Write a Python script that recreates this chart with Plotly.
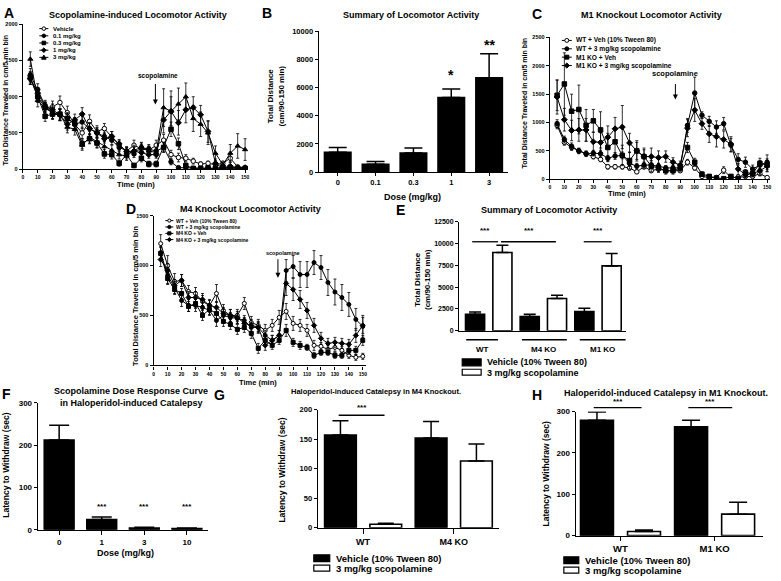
import plotly.graph_objects as go

W, H = 781, 581
FONT = "Liberation Sans, Arial, sans-serif"

# ---- time course data (cm / 5 min bin) ----
time_min = [5, 10, 15, 20, 25, 30, 35, 40, 45, 50, 55, 60, 65, 70, 75,
            80, 85, 90, 95, 100, 105, 110, 115, 120, 125, 130, 135, 140, 145, 150]

# panel A
a_names = ["Vehicle", "0.1 mg/kg", "0.3 mg/kg", "1 mg/kg", "3 mg/kg"]
a_veh = [1250, 1000, 850, 860, 920, 780, 620, 500, 660, 520, 560, 450, 330, 250, 330,
         280, 260, 330, 400, 200, 160, 150, 110, 70, 80, 60, 80, 150, 30, 20]
a_veh_err = [80, 70, 70, 80, 90, 90, 90, 80, 90, 80, 70, 70, 60, 60, 70,
             60, 60, 70, 80, 60, 60, 50, 40, 30, 30, 30, 30, 60, 20, 20]
a_01 = [1300, 1100, 880, 760, 750, 700, 620, 650, 560, 500, 450, 400, 300, 250, 210,
        300, 280, 250, 300, 100, 20, 20, 10, 10, 20, 10, 30, 20, 10, 10]
a_01_err = [90, 80, 70, 70, 80, 80, 70, 90, 80, 70, 60, 60, 60, 50, 50,
            60, 60, 50, 60, 40, 20, 20, 10, 10, 10, 10, 20, 10, 10, 10]
a_03 = [1270, 1000, 730, 760, 760, 700, 630, 350, 420, 360, 210, 200, 80, 200, 50,
        150, 70, 70, 300, 550, 350, 50, 10, 10, 20, 10, 20, 20, 10, 10]
a_03_err = [80, 80, 70, 70, 70, 70, 80, 70, 70, 70, 60, 60, 40, 60, 30,
            50, 40, 40, 70, 100, 80, 30, 10, 10, 10, 10, 10, 10, 10, 10]
a_1 = [1250, 1050, 860, 820, 750, 620, 680, 760, 560, 500, 420, 450, 350, 240, 250,
       230, 200, 200, 680, 800, 640, 820, 850, 750, 520, 80, 10, 40, 20, 20]
a_1_err = [80, 80, 70, 80, 80, 80, 80, 90, 80, 70, 60, 70, 60, 60, 60,
           60, 50, 50, 180, 200, 170, 180, 150, 130, 150, 60, 10, 20, 10, 10]
a_3 = [1520, 950, 840, 780, 750, 580, 550, 330, 440, 380, 310, 260, 200, 180, 260,
       300, 250, 230, 850, 800, 900, 1000, 700, 620, 500, 220, 60, 220, 320, 270]
a_3_err = [100, 90, 80, 80, 80, 80, 80, 70, 80, 80, 70, 70, 60, 60, 70,
           70, 60, 60, 260, 280, 220, 190, 180, 170, 160, 100, 30, 120, 170, 150]

# panel C
c_names = ["WT + Veh (10% Tween 80)", "WT + 3 mg/kg scopolamine",
           "M1 KO + Veh", "M1 KO + 3 mg/kg scopolamine"]
c_wt_veh = [950, 650, 560, 500, 450, 400, 350, 220, 220, 220, 200, 130, 220, 150, 180,
            150, 150, 150, 300, 200, 50, 30, 30, 160, 30, 40, 50, 50, 100, 30]
c_wt_veh_err = [60, 50, 50, 40, 40, 40, 40, 40, 40, 40, 40, 30, 40, 30, 40,
                30, 30, 30, 50, 40, 20, 20, 20, 60, 20, 20, 20, 20, 40, 20]
c_wt_scop = [980, 700, 580, 500, 450, 460, 450, 370, 410, 420, 280, 230, 250, 250, 230,
             200, 200, 200, 950, 1520, 1130, 1020, 920, 980, 600, 350, 300, 180, 250, 300]
c_wt_scop_err = [70, 60, 60, 50, 50, 50, 60, 50, 60, 60, 50, 50, 50, 50, 50,
                 40, 40, 40, 120, 280, 60, 90, 110, 110, 120, 100, 90, 70, 80, 130]
c_ko_veh = [1480, 1680, 1200, 1230, 950, 1030, 870, 560, 660, 420, 330, 500, 400, 230, 200,
            150, 150, 200, 560, 300, 90, 50, 20, 10, 50, 10, 120, 100, 280, 250]
c_ko_veh_err = [270, 550, 300, 430, 280, 200, 320, 250, 230, 180, 150, 180, 120, 100, 80,
                60, 60, 60, 90, 70, 40, 30, 20, 10, 30, 10, 50, 50, 90, 110]
c_ko_scop = [1450, 1050, 860, 870, 870, 660, 650, 740, 890, 920, 640, 500, 400, 400, 380,
             400, 300, 250, 900, 1220, 980, 800, 750, 700, 620, 180, 80, 100, 150, 230]
c_ko_scop_err = [300, 200, 180, 200, 200, 170, 170, 200, 200, 380, 170, 150, 150, 150, 120,
                 100, 80, 70, 150, 200, 100, 150, 180, 150, 130, 100, 50, 60, 70, 100]

# panel D
d_names = ["WT + Veh (10% Tween 80)", "WT + 3 mg/kg scopolamine",
           "M4 KO + Veh", "M4 KO + 3 mg/kg scopolamine"]
d_wt_veh = [1220, 1000, 840, 850, 740, 720, 640, 600, 720, 550, 500, 500, 620, 430, 400,
            350, 400, 480, 540, 420, 400, 350, 200, 190, 160, 180, 150, 100, 80, 90]
d_wt_veh_err = [90, 100, 80, 60, 60, 60, 60, 50, 90, 60, 60, 60, 60, 60, 60,
                60, 60, 70, 80, 70, 60, 60, 50, 40, 40, 40, 40, 30, 30, 30]
d_wt_scop = [1130, 900, 780, 650, 600, 600, 580, 550, 450, 500, 480, 470, 450, 380, 380,
             300, 250, 300, 950, 990, 910, 910, 1030, 980, 830, 735, 680, 610, 460, 390]
d_wt_scop_err = [60, 80, 60, 60, 60, 60, 50, 50, 60, 60, 50, 50, 50, 50, 50,
                 50, 50, 50, 110, 110, 130, 130, 120, 120, 130, 130, 130, 120, 110, 110]
d_ko_veh = [1120, 870, 760, 720, 590, 620, 500, 560, 520, 440, 410, 360, 380, 320, 170,
            250, 200, 250, 350, 230, 200, 180, 100, 130, 130, 100, 100, 150, 150, 250]
d_ko_veh_err = [60, 60, 50, 50, 50, 50, 50, 50, 50, 50, 50, 50, 50, 50, 50,
                40, 40, 40, 60, 40, 40, 30, 30, 30, 30, 30, 30, 40, 40, 50]
d_ko_scop = [1060, 950, 800, 850, 680, 680, 660, 600, 580, 520, 500, 480, 420, 400, 380,
             200, 250, 300, 820, 760, 660, 550, 400, 270, 220, 230, 220, 210, 300, 400]
d_ko_scop_err = [70, 70, 60, 60, 60, 60, 60, 60, 60, 60, 60, 60, 60, 60, 60,
                 50, 50, 50, 120, 110, 90, 80, 70, 60, 50, 50, 50, 50, 70, 80]

# panel B summary
b_dose = ["0", "0.1", "0.3", "1", "3"]
b_mean = [1400, 550, 1350, 5300, 6700]
b_err = [350, 200, 350, 600, 1700]

# panel E summary
e_groups = ["WT", "M4 KO", "M1 KO"]
e_veh = [1900, 1650, 2200]
e_veh_err = [270, 260, 400]
e_scop = [8970, 3700, 7430]
e_scop_err = [830, 380, 1430]

# panel F catalepsy dose response
f_dose = ["0", "1", "3", "10"]
f_mean = [212, 24, 4, 3]
f_err = [35, 6, 2, 1]

# panel G (M4 KO) and H (M1 KO) catalepsy
g_groups = ["WT", "M4 KO"]
g_veh = [157, 152]
g_veh_err = [24, 28]
g_scop = [6, 113]
g_scop_err = [1.5, 29]

h_groups = ["WT", "M1 KO"]
h_veh = [279, 263]
h_veh_err = [20, 16]
h_scop = [10, 52]
h_scop_err = [3.5, 29]


def fx(p):
    return p / W


def fy(p):
    return 1 - p / H


fig = go.Figure()
annotations = []
shapes = []


def note(x, y, text, size, angle=0, xanchor="center", yanchor="middle"):
    annotations.append(dict(x=fx(x), y=fy(y), xref="paper", yref="paper", text=text,
                            showarrow=False, textangle=angle, xanchor=xanchor, yanchor=yanchor,
                            borderpad=0,
                            font=dict(family=FONT, size=size, color="black", weight=700)))


def arrow(x, y_top, y_tip):
    annotations.append(dict(x=fx(x), y=fy(y_tip), xref="paper", yref="paper", text="",
                            showarrow=True, ax=0, ay=-(y_tip - y_top), arrowhead=2,
                            arrowsize=1, arrowwidth=1, arrowcolor="black"))


def hline(x0, x1, y, width=1.5):
    shapes.append(dict(type="line", xref="paper", yref="paper", x0=fx(x0), x1=fx(x1),
                       y0=fy(y), y1=fy(y), line=dict(color="black", width=width)))


def key(x, y, sym, filled, r=2.0, half=5):
    hline(x - half, x + half, y, width=1)
    fill = "black" if filled else "white"
    ln = dict(color="black", width=1)
    if sym == "circle":
        shapes.append(dict(type="circle", xref="paper", yref="paper", x0=fx(x - r), x1=fx(x + r),
                           y0=fy(y + r), y1=fy(y - r), fillcolor=fill, line=ln))
    elif sym == "square":
        shapes.append(dict(type="rect", xref="paper", yref="paper", x0=fx(x - r), x1=fx(x + r),
                           y0=fy(y + r), y1=fy(y - r), fillcolor=fill, line=ln))
    elif sym == "diamond":
        rr = r * 1.3
        p = "M{},{} L{},{} L{},{} L{},{} Z".format(fx(x), fy(y - rr), fx(x + rr), fy(y),
                                                  fx(x), fy(y + rr), fx(x - rr), fy(y))
        shapes.append(dict(type="path", xref="paper", yref="paper", path=p, fillcolor=fill, line=ln))
    else:
        rr = r * 1.3
        p = "M{},{} L{},{} L{},{} Z".format(fx(x), fy(y - rr), fx(x + rr), fy(y + rr * 0.8),
                                           fx(x - rr), fy(y + rr * 0.8))
        shapes.append(dict(type="path", xref="paper", yref="paper", path=p, fillcolor=fill, line=ln))


def bar_key(x0, x1, y0, y1, filled):
    shapes.append(dict(type="rect", xref="paper", yref="paper", x0=fx(x0), x1=fx(x1),
                       y0=fy(y1), y1=fy(y0), fillcolor="black" if filled else "white",
                       line=dict(color="black", width=1.2)))


def series(n, y, err, sym, filled, size=4.5):
    xa = "x" if n == 1 else "x%d" % n
    ya = "y" if n == 1 else "y%d" % n
    fig.add_trace(go.Scatter(
        x=time_min, y=y, xaxis=xa, yaxis=ya, mode="lines+markers", showlegend=False,
        line=dict(color="black", width=1),
        marker=dict(symbol=sym, size=size, color="black" if filled else "white",
                    line=dict(color="black", width=1)),
        error_y=dict(type="data", array=err, color="black", thickness=0.8, width=1.5)))


def bars(n, x, y, err, filled, width=0.7, cap=8):
    xa = "x%d" % n
    ya = "y%d" % n
    fig.add_trace(go.Bar(
        x=x, y=y, xaxis=xa, yaxis=ya, width=width, showlegend=False,
        marker=dict(color="black" if filled else "white", line=dict(color="black", width=1.6)),
        error_y=dict(type="data", array=err, arrayminus=[0] * len(err), symmetric=False,
                     color="black", thickness=1.5, width=cap)))


# ---- A ----
series(1, a_veh, a_veh_err, "circle", False)
series(1, a_01, a_01_err, "circle", True)
series(1, a_03, a_03_err, "square", True)
series(1, a_1, a_1_err, "diamond", True)
series(1, a_3, a_3_err, "triangle-up", True)

# ---- C ----
series(3, c_wt_veh, c_wt_veh_err, "circle", False)
series(3, c_wt_scop, c_wt_scop_err, "circle", True)
series(3, c_ko_veh, c_ko_veh_err, "square", True)
series(3, c_ko_scop, c_ko_scop_err, "diamond", True)

# ---- D ----
series(4, d_wt_veh, d_wt_veh_err, "circle", False, 4)
series(4, d_wt_scop, d_wt_scop_err, "circle", True, 4)
series(4, d_ko_veh, d_ko_veh_err, "square", True, 4)
series(4, d_ko_scop, d_ko_scop_err, "diamond", True, 4)

# ---- B ----
bars(2, b_dose, b_mean, b_err, True, 0.7, 9)

# ---- E ----
e_veh_pos = [2 * i + 1 for i in range(len(e_groups))]
e_scop_pos = [2 * i + 2 for i in range(len(e_groups))]
bars(5, e_veh_pos, e_veh, e_veh_err, True, 0.7, 6)
bars(5, e_scop_pos, e_scop, e_scop_err, False, 0.7, 6)

# ---- F ----
bars(6, f_dose, f_mean, f_err, True, 0.7, 10)

# ---- G ----
bars(7, [0, 2], g_veh, g_veh_err, True, 0.7, 8)
bars(7, [1, 3], g_scop, g_scop_err, False, 0.7, 8)

# ---- H ----
bars(8, [0, 2], h_veh, h_veh_err, True, 0.7, 9)
bars(8, [1, 3], h_scop, h_scop_err, False, 0.7, 9)


def axis(left, right, rng, anchor, tsize, **kw):
    d = dict(domain=[fx(left), fx(right)], range=rng, anchor=anchor, showline=True,
             linecolor="black", linewidth=1.4, ticks="outside", ticklen=3, tickwidth=1,
             tickcolor="black", showgrid=False, zeroline=False, fixedrange=True,
             tickfont=dict(family=FONT, size=tsize, color="black", weight=700))
    d.update(kw)
    return d


def yaxis(bottom, top, rng, anchor, tsize, **kw):
    d = dict(domain=[fy(bottom), fy(top)], range=rng, anchor=anchor, showline=True,
             linecolor="black", linewidth=1.4, ticks="outside", ticklen=3, tickwidth=1,
             tickcolor="black", showgrid=False, zeroline=False, fixedrange=True,
             tickformat="d",
             tickfont=dict(family=FONT, size=tsize, color="black", weight=700))
    d.update(kw)
    return d


layout_axes = dict(
    xaxis=axis(22, 248, [0, 152], "y", 5, dtick=10, tick0=0),
    yaxis=yaxis(167.7, 20.7, [0, 2000], "x", 5.5, dtick=500),
    xaxis2=axis(319, 509, [-0.5, 4.5], "y2", 7.5, type="category"),
    yaxis2=yaxis(170.7, 27.7, [0, 10000], "x2", 7.5, dtick=2000),
    xaxis3=axis(551, 772, [0, 152], "y3", 5, dtick=10, tick0=0),
    yaxis3=yaxis(178, 34, [0, 2500], "x3", 5.5, dtick=500),
    xaxis4=axis(153.3, 366, [0, 152], "y4", 5, dtick=10, tick0=0),
    yaxis4=yaxis(367, 215, [0, 1500], "x4", 5.5, dtick=500),
    xaxis5=axis(460, 627, [0.42, 6.51], "y5", 7, ticks="", showticklabels=False),
    yaxis5=yaxis(332, 221, [0, 12500], "x5", 7, dtick=2500),
    xaxis6=axis(37, 208, [-0.5, 3.5], "y6", 8, type="category", ticklen=4),
    yaxis6=yaxis(534, 405, [0, 300], "x6", 8, dtick=100),
    xaxis7=axis(318, 500, [-0.5, 3.5], "y7", 9, tickvals=[0.5, 2.5], ticktext=g_groups, ticklen=5),
    yaxis7=yaxis(532, 412, [0, 200], "x7", 7.5, dtick=50),
    xaxis8=axis(577, 765, [-0.45, 3.53], "y8", 9.5, tickvals=[0.5, 2.5], ticktext=h_groups, ticklen=4),
    yaxis8=yaxis(540, 414, [0, 300], "x8", 8, dtick=100),
)

# ---- panel letters ----
for lx, ly, lt in [(8, 9, "A"), (267, 9, "B"), (538, 10, "C"), (131, 208, "D"),
                   (401, 209, "E"), (6, 396, "F"), (219, 397, "G"), (538, 397, "H")]:
    note(lx, ly, lt, 14)

# ---- titles ----
note(138, 11, "Scopolamine-induced Locomotor Activity", 9)
note(412, 11, "Summary of Locomotor Activity", 9)
note(653, 11, "M1 Knockout Locomotor Activity", 9)
note(250, 208, "M4 Knockout Locomotor Activity", 9)
note(550, 209, "Summary of Locomotor Activity", 9)
note(131, 393, "Scopolamine Dose Response Curve", 9)
note(131, 405, "in Haloperidol-induced Catalepsy", 9)
note(376, 394, "Haloperidol-induced Catalepsy in M4 Knockout.", 7.5)
note(668, 395, "Haloperidol-induced Catalepsy in M1 Knockout.", 9)

# ---- axis titles ----
note(5, 97, "Total Distance Traveled in cm/5 min bin", 7, -90)
note(525, 100, "Total Distance Traveled in cm/5 min bin", 7, -90)
note(135, 296, "Total Distance Traveled in cm/5 min bin", 7.5, -90)
note(276, 93, "Total Distance<br>(cm/90-150 min)", 8, -90)
note(423, 280, "Total Distance<br>(cm/90-150 min)", 8, -90)
note(5, 468, "Latency to Withdraw (sec)", 8.5, -90)
note(282, 473, "Latency to Withdraw (sec)", 8.5, -90)
note(547, 477, "Latency to Withdraw (sec)", 8.5, -90)
note(136, 183, "Time (min)", 7.5)
note(628, 192, "Time (min)", 7.5)
note(258, 384, "Time (min)", 7.5)
note(413, 196, "Dose (mg/kg)", 9)
note(125, 558, "Dose (mg/kg)", 9)

# ---- scopolamine arrows ----
note(158, 73, "scopolamine", 6.5)
arrow(155, 80, 102)
note(677, 71, "scopolamine", 7.5)
arrow(677, 80, 97)
note(283, 253, "scopolamine", 5.5)
arrow(278, 258, 278)

# ---- time-course legends ----
a_syms = [("circle", False), ("circle", True), ("square", True), ("diamond", True), ("triangle", True)]
for (s, f), nm, yy in zip(a_syms, a_names, [25, 32.3, 39.6, 46.9, 54.2]):
    key(43, yy, s, f, 1.8, 4.5)
    note(51, yy, nm, 6, xanchor="left")
cd_syms = [("circle", False), ("circle", True), ("square", True), ("diamond", True)]
for (s, f), nm, yy in zip(cd_syms, c_names, [37, 45.5, 54, 62.5]):
    key(568, yy, s, f, 2.0, 5)
    note(576, yy, nm, 6.6, xanchor="left")
for (s, f), nm, yy in zip(cd_syms, d_names, [220, 226.5, 233, 239.3]):
    key(169, yy, s, f, 1.6, 4)
    note(175, yy, nm, 5, xanchor="left")

# ---- significance marks ----
note(452, 72, "*", 14)
note(490, 42, "**", 14)
for x0, x1 in [(473, 499), (502, 557), (585, 613)]:
    hline(x0, x1, 241.5, 1.3)
for xs in [486, 530, 599]:
    note(xs, 230, "***", 8)
for xs in [101, 144, 187]:
    note(xs, 510, "***", 8)
hline(339, 385, 417.7, 1.3)
note(362, 410, "***", 8)
hline(595, 643, 410, 1.3)
hline(690, 734, 410, 1.3)
note(619, 404, "***", 8)
note(712, 404, "***", 8)

# ---- E group labels ----
for x0, x1 in [(467, 499), (523, 568), (581, 627)]:
    hline(x0, x1, 341, 1.4)
for xs, gname in zip([483, 545, 604], e_groups):
    note(xs, 351, gname, 8)

# ---- bar legends ----
for lx0, lx1, ly, tx, size in [(463, 482, 364, 487, 9), (314, 330, 563, 335, 9.5), (565, 580, 565, 585, 9.5)]:
    bar_key(lx0, lx1, ly - 3.5, ly + 3.5, True)
    note(tx, ly, "Vehicle (10% Tween 80)", size, xanchor="left")
    bar_key(lx0, lx1, ly + 7, ly + 13, False)
    note(tx, ly + 10.5, "3 mg/kg scopolamine", size, xanchor="left")

fig.update_layout(
    width=W, height=H, margin=dict(l=0, r=0, t=0, b=0),
    paper_bgcolor="white", plot_bgcolor="white",
    font=dict(family=FONT, color="black"),
    annotations=annotations, shapes=shapes, showlegend=False,
    **layout_axes,
)

fig.write_html("out.html", config={"displayModeBar": False},
               post_script="document.body.style.margin='0px';")
